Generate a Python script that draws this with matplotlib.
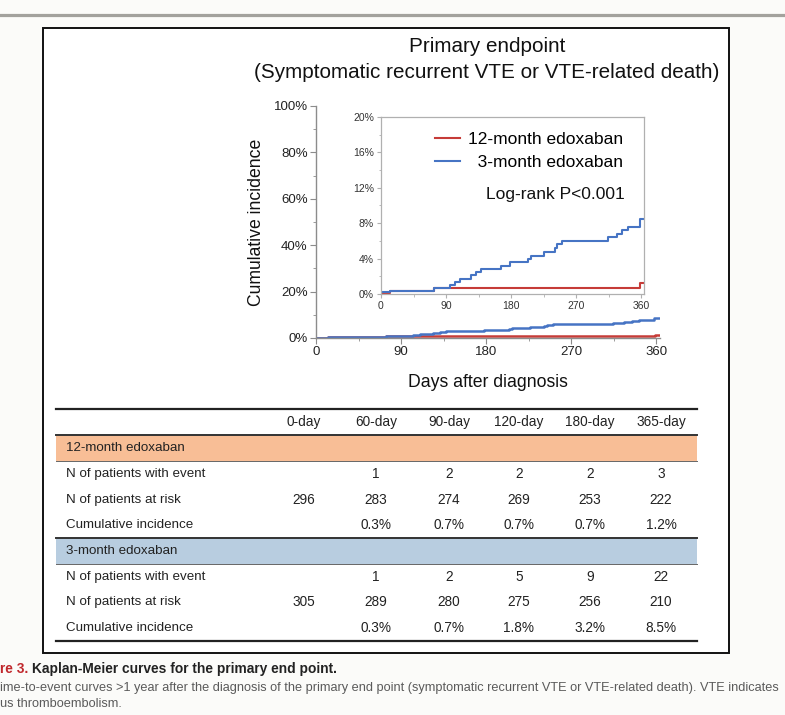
import matplotlib.pyplot as plt
from matplotlib.patches import Rectangle
from matplotlib.ticker import MultipleLocator, FuncFormatter
from matplotlib import font_manager

# step curves (days, cumulative incidence %)
red_days = [0, 13, 74, 359, 365]
red_pct = [0.1, 0.3, 0.7, 1.2, 1.2]
blue_days = [0, 13, 74, 96, 103, 110, 124, 131, 138, 166, 178, 204, 207, 226,
             241, 244, 251, 314, 326, 334, 342, 358, 365]
blue_pct = [0.2, 0.35, 0.7, 1.0, 1.4, 1.7, 2.1, 2.5, 2.85, 3.2, 3.6, 4.0, 4.3,
            4.8, 5.2, 5.6, 6.0, 6.4, 6.8, 7.2, 7.6, 8.5, 8.5]
group_labels = ['12-month edoxaban', '\u20073-month edoxaban']

# risk table
table_cols = ['0-day', '60-day', '90-day', '120-day', '180-day', '365-day']
row_labels = ['N of patients with event', 'N of patients at risk', 'Cumulative incidence']
m12_event = ['', '1', '2', '2', '2', '3']
m12_risk = ['296', '283', '274', '269', '253', '222']
m12_cum = ['', '0.3%', '0.7%', '0.7%', '0.7%', '1.2%']
m3_event = ['', '1', '2', '5', '9', '22']
m3_risk = ['305', '289', '280', '275', '256', '210']
m3_cum = ['', '0.3%', '0.7%', '1.8%', '3.2%', '8.5%']

RED = '#c63c38'
BLUE = '#4674c4'
FONT = ['Liberation Sans', 'DejaVu Sans']
names = {f.name for f in font_manager.fontManager.ttflist}
NARROW = ['Liberation Sans Narrow', 'Liberation Sans', 'DejaVu Sans'] \
    if 'Liberation Sans Narrow' in names else FONT
plt.rcParams['font.family'] = FONT

W, H = 785, 715
fig = plt.figure(figsize=(W / 100, H / 100), dpi=100)
fig.patch.set_facecolor('#fbfbf9')


def px_axes(left, top, right, bottom):
    return fig.add_axes([left / W, 1 - bottom / H, (right - left) / W, (bottom - top) / H])


# page layer in pixel coordinates
bg = fig.add_axes([0, 0, 1, 1])
bg.set_xlim(0, W)
bg.set_ylim(H, 0)
bg.axis('off')
bg.axhline(15, color='#a3a29d', lw=2.3)
bg.add_patch(Rectangle((43, 28), 686, 625, facecolor='white', edgecolor='#111', lw=1.4))

bg.text(487, 47, 'Primary endpoint', ha='center', va='center', fontsize=14.9, color='#111')
bg.text(487, 73, '(Symptomatic recurrent VTE or VTE-related death)', ha='center',
        va='center', fontsize=14.9, color='#111')

# main plot
ax = px_axes(316, 106, 660, 338)
ax.set_facecolor('none')
ax.step(red_days, red_pct, where='post', color=RED, lw=1.8)
ax.step(blue_days, blue_pct, where='post', color=BLUE, lw=1.8)
ax.set_xlim(0, 364)
ax.set_ylim(0, 100)
ax.xaxis.set_major_locator(MultipleLocator(90))
ax.xaxis.set_minor_locator(MultipleLocator(45))
ax.yaxis.set_major_locator(MultipleLocator(20))
ax.yaxis.set_minor_locator(MultipleLocator(10))
ax.yaxis.set_major_formatter(FuncFormatter(lambda v, p: '%d%%' % v))
for s in ['top', 'right']:
    ax.spines[s].set_visible(False)
for s in ['left', 'bottom']:
    ax.spines[s].set_color('#8c8c8c')
    ax.spines[s].set_linewidth(1.0)
ax.tick_params(which='major', length=4, color='#8c8c8c', labelsize=9.5, labelcolor='#222', pad=2)
ax.tick_params(which='minor', length=2.5, color='#8c8c8c')
ax.set_ylabel('Cumulative incidence', fontsize=12.7, color='#111', labelpad=6)
ax.set_xlabel('Days after diagnosis', fontsize=12.7, color='#111', labelpad=11)

# inset
ins = px_axes(381, 117, 644, 294)
ins.set_facecolor('white')
ins.step(red_days, red_pct, where='post', color=RED, lw=1.5, label=group_labels[0])
ins.step(blue_days, blue_pct, where='post', color=BLUE, lw=1.5, label=group_labels[1])
ins.set_xlim(0, 364)
ins.set_ylim(0, 20)
ins.xaxis.set_major_locator(MultipleLocator(90))
ins.xaxis.set_minor_locator(MultipleLocator(45))
ins.yaxis.set_major_locator(MultipleLocator(4))
ins.yaxis.set_minor_locator(MultipleLocator(2))
ins.yaxis.set_major_formatter(FuncFormatter(lambda v, p: '%d%%' % v))
for s in ins.spines.values():
    s.set_color('#b0b0b0')
    s.set_linewidth(0.9)
ins.tick_params(which='major', length=3, color='#b0b0b0', labelsize=7.5, labelcolor='#333', pad=2)
ins.tick_params(which='minor', length=1.8, color='#b0b0b0')
ins.legend(loc='upper left', bbox_to_anchor=(0.205, 0.915), frameon=False, fontsize=12.5,
           handlelength=1.45, handletextpad=0.45, labelspacing=0.45, borderpad=0,
           borderaxespad=0)
ins.text(0.928, 0.56, 'Log-rank P<0.001', transform=ins.transAxes, ha='right',
         va='center', fontsize=12.5, color='#111')

# table
col_x = [304, 376, 449, 519, 590, 661]
bg.plot([56, 697], [409, 409], color='#222', lw=1.6)
for x, c in zip(col_x, table_cols):
    bg.text(x, 422, c, ha='center', va='center', fontsize=9.8, color='#222')

bands = [('12-month edoxaban', '#f8be96', 435, [m12_event, m12_risk, m12_cum]),
         ('3-month edoxaban', '#b8cde0', 538, [m3_event, m3_risk, m3_cum])]
for name, col, top, rows in bands:
    bg.add_patch(Rectangle((56, top), 641, 26, facecolor=col, edgecolor='none'))
    bg.plot([56, 697], [top, top], color='#333', lw=1.4)
    bg.plot([56, 697], [top + 26, top + 26], color='#666', lw=0.7)
    bg.text(66, top + 13, name, va='center', fontsize=9.6, color='#222')
    for i, (lab, vals) in enumerate(zip(row_labels, rows)):
        y = top + 39 + i * 25.5
        bg.text(66, y, lab, va='center', fontsize=9.6, color='#222')
        for x, v in zip(col_x, vals):
            bg.text(x, y, v, ha='center', va='center', fontsize=9.8, color='#222')
bg.plot([56, 697], [641, 641], color='#222', lw=1.6)

# caption, as cropped in the screenshot
r = fig.canvas.get_renderer()
t1 = bg.text(0, 669, 're 3.', va='center', fontsize=9.9, fontweight='bold',
             color='#c0282d', family=NARROW)
bb = t1.get_window_extent(renderer=r)
bg.text(bb.x1 + 4, 669, 'Kaplan-Meier curves for the primary end point.', va='center',
        fontsize=9.9, fontweight='bold', color='#222', family=NARROW)
bg.text(0, 688, 'ime-to-event curves >1 year after the diagnosis of the primary end point '
        '(symptomatic recurrent VTE or VTE-related death). VTE indicates',
        va='center', fontsize=9.2, color='#5a5a5a', family=NARROW)
bg.text(0, 704, 'us thromboembolism.', va='center', fontsize=9.2, color='#5a5a5a',
        family=NARROW)

fig.savefig('out.png', dpi=100, facecolor=fig.get_facecolor())
